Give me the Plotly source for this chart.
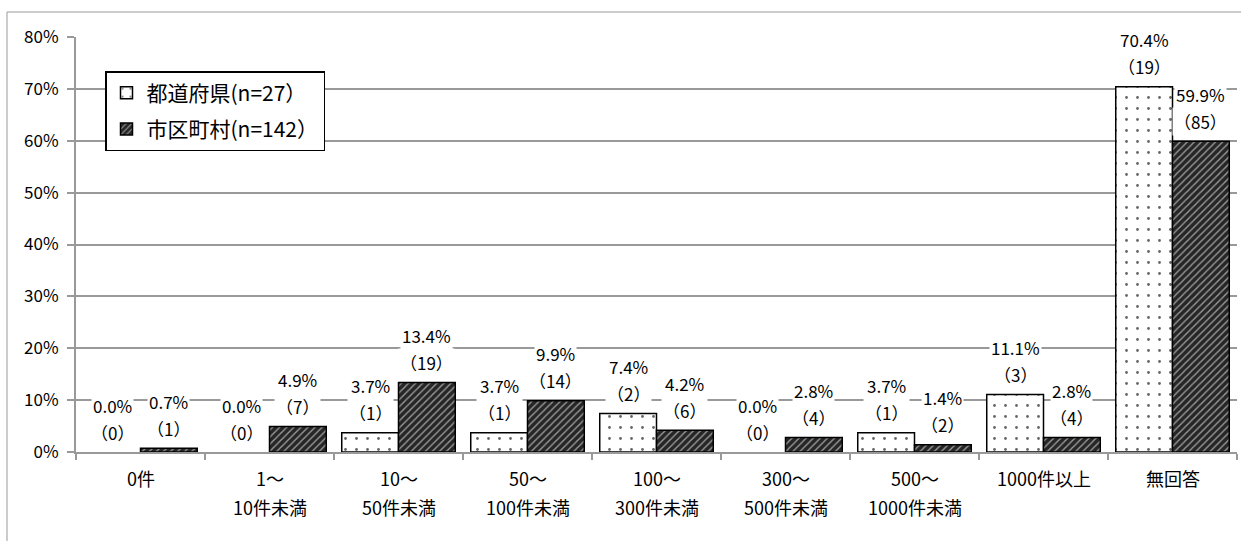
import plotly.graph_objects as go

categories = ["0件", "1～<br>10件未満", "10～<br>50件未満", "50～<br>100件未満", "100～<br>300件未満",
              "300～<br>500件未満", "500～<br>1000件未満", "1000件以上", "無回答"]
pref_pct = [0.0, 0.0, 3.7, 3.7, 7.4, 0.0, 3.7, 11.1, 70.4]
pref_n = [0, 0, 1, 1, 2, 0, 1, 3, 19]
muni_pct = [0.7, 4.9, 13.4, 9.9, 4.2, 2.8, 1.4, 2.8, 59.9]
muni_n = [1, 7, 19, 14, 6, 4, 2, 4, 85]
series_names = ["都道府県(n=27）", "市区町村(n=142）"]

FONT = "Noto Sans CJK JP"

def drawn(vals):
    # zero-height bars are not drawn (as in the original chart)
    return [v if v > 0 else None for v in vals]

fig = go.Figure()
fig.add_trace(go.Bar(
    x=categories, y=drawn(pref_pct), name=series_names[0], legendgroup="a",
    marker=dict(color="white", line=dict(color="black", width=1.5),
                pattern=dict(shape=".", fgcolor="#666666", bgcolor="white",
                             size=11, solidity=0.05, fillmode="replace")),
    hoverinfo="skip",
))
fig.add_trace(go.Bar(
    x=categories, y=drawn(muni_pct), name=series_names[1], legendgroup="b",
    marker=dict(color="#262626", line=dict(color="black", width=1.5),
                pattern=dict(shape="/", fgcolor="#9a9a9a", bgcolor="#262626",
                             size=5, solidity=0.28, fillmode="replace")),
    hoverinfo="skip",
))

annotations = []
for vals, counts, shift in ((pref_pct, pref_n, -28), (muni_pct, muni_n, 28)):
    for cat, v, n in zip(categories, vals, counts):
        annotations.append(dict(
            x=cat, y=v, xref="x", yref="y", xshift=shift, yshift=20,
            text=f"（{n}）", showarrow=False, bgcolor="white",
            font=dict(family=FONT, size=17, color="black"), yanchor="middle", borderpad=1))
        annotations.append(dict(
            x=cat, y=v, xref="x", yref="y", xshift=shift, yshift=47,
            text=f"{v:.1f}%", showarrow=False, bgcolor="white",
            font=dict(family=FONT, size=17, color="black"), yanchor="middle", borderpad=1))

# category labels (two lines with Excel-like spacing)
for cat in categories:
    for k, part in enumerate(cat.split("<br>")):
        annotations.append(dict(
            x=cat, y=0, xref="x", yref="paper", yshift=-26 - 29 * k,
            text=part, showarrow=False, yanchor="middle",
            font=dict(family=FONT, size=18, color="black")))

W, H = 1241, 541
ml, mr, mt, mb = 76, 4, 37, 89
pw, ph = W - ml - mr, H - mt - mb

fig.update_layout(
    width=W, height=H,
    margin=dict(l=ml, r=mr, t=mt, b=mb, autoexpand=False),
    paper_bgcolor="white", plot_bgcolor="white",
    barmode="group", bargap=0.12, bargroupgap=0,
    font=dict(family=FONT, size=16, color="black"),
    annotations=annotations,
    legend=dict(x=(105 - ml) / pw, y=(H - mb - 71) / ph, xanchor="left", yanchor="top",
                bgcolor="white", bordercolor="black", borderwidth=1.5,
                font=dict(family=FONT, size=21, color="black"),
                itemwidth=30, tracegroupgap=6),
    showlegend=True,
    shapes=[dict(type="rect", xref="paper", yref="paper",
                 x0=(7 - ml) / pw, x1=1.2, y0=-0.5, y1=1 + (mt - 12) / ph,
                 line=dict(color="#999999", width=1), layer="below")],
)
fig.update_xaxes(
    showline=True, linecolor="#999999", linewidth=2, automargin=False,
    ticks="outside", tickson="boundaries", ticklen=6, tickcolor="#999999", tickwidth=1.5,
    showticklabels=False, showgrid=False,
)
fig.update_yaxes(
    range=[0, 80], dtick=10, ticksuffix="%", automargin=False,
    showline=True, linecolor="#999999", linewidth=2,
    ticks="outside", ticklen=7, tickcolor="#999999", tickwidth=1.5,
    ticklabelstandoff=5,
    showgrid=True, gridcolor="#999999", gridwidth=1.5,
    tickfont=dict(family=FONT, size=17, color="black"),
    zeroline=False,
)

fig.write_html("out.html", config={"displayModeBar": False},
               post_script="document.body.style.margin='0';")
